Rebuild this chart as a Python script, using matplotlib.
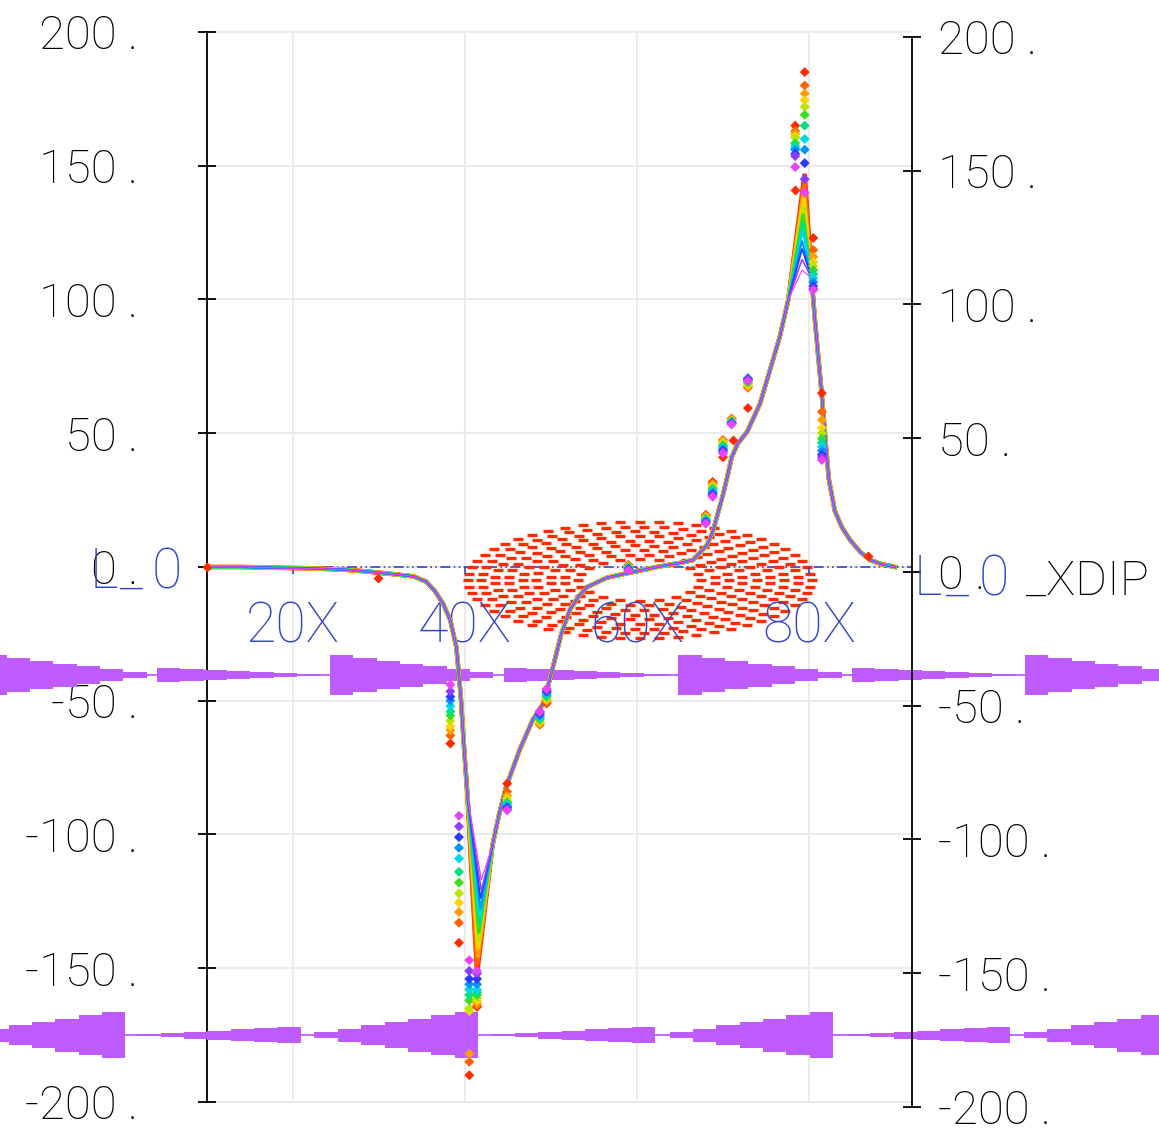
import matplotlib
matplotlib.use("Agg")
import matplotlib.pyplot as plt
import numpy as np

W, H = 1159, 1133

plt.rcParams["font.family"] = ["Roboto", "DejaVu Sans"]
plt.rcParams["font.weight"] = "light"

# axis layout (data units)
x_lim = (-14.07, 120.7)
y_lim = (-211.6, 211.96)
left_axis_x = 10
right_axis_x = 92
y_ticks = [-200, -150, -100, -50, 0, 50, 100, 150, 200]
y_tick_labels = ["-200 .", "-150 .", "-100 .", "-50 .", "0 .", "50 .", "100 .", "150 .", "200 ."]
x_ticks = [20, 40, 60, 80]
x_tick_labels = ["20X", "40X", "60X", "80X"]

series_colors = ["#ff2a00", "#ff6000", "#ff9e00", "#ffd200", "#b8e600", "#3ddc20",
                 "#00e080", "#00d8e8", "#0094ff", "#2a3cff", "#8c3cff", "#e644ff"]

# shared parts of the rainbow curves
seg_a_x = [10, 14, 18, 22, 26, 29, 32, 34, 35.5, 36.5, 37.5, 38.3, 39.0, 39.5, 39.9, 40.3]
seg_a_y = [0, 0, -0.3, -0.5, -1, -1.8, -2.8, -3.5, -5.5, -9, -14, -20, -30, -48, -68, -86]
seg_b_x = [43.2, 44.0, 44.8, 45.6, 46.4, 47.9, 49.1, 49.7, 50.5, 51.2, 52.2, 53.2, 54.2,
           56.5, 59.5, 62.0, 63.5, 65.0, 66.5, 68.1, 68.8, 69.4, 70.0, 70.6, 71.0, 71.7,
           72.8, 74.3, 75.5, 76.6, 77.6]
seg_b_y = [-104, -92, -82, -75, -68, -57, -51, -44, -34, -25, -16, -11, -7.5,
           -4, -1.9, -0.2, 0.7, 1.5, 2.6, 8, 13, 20, 27, 35, 41, 46,
           50.5, 61, 74, 86, 100]
seg_c_x = [80.3, 80.7, 81.1, 81.5, 81.9, 82.3, 83.0, 83.8, 84.8, 86.0, 87.1, 88.5, 90.0]
seg_c_y = [108, 92, 78, 64, 48, 33, 21, 15, 10, 5.5, 2.6, 1, 0]

# per-series tips (red -> magenta)
dip_x = [41.4, 41.4, 41.5, 41.5, 41.6, 41.6, 41.7, 41.7, 41.8, 41.8, 41.9, 41.9]
dip_y = [-152, -149, -146, -143, -140, -137, -134, -131, -128, -124, -121, -117]
peak_x = [79.5, 79.5, 79.4, 79.4, 79.4, 79.3, 79.3, 79.3, 79.2, 79.2, 79.2, 79.2]
peak_y = [147, 144, 141, 138, 135, 132, 129, 126, 122, 119, 115, 111]

# diamond marker columns (values red -> magenta)
col_x = [38.3, 39.3, 40.5, 41.4, 44.9, 48.7, 49.5, 59.0, 68.0, 68.8, 70.0, 71.0,
         72.9, 78.4, 79.5, 80.5, 81.5]
col_y = [
    [-66, -63, -61, -59.5, -57.5, -55.5, -54, -52, -50, -48.5, -46.5, -44],
    [-140.5, -133, -129, -125.5, -122, -118, -114, -109, -105, -101, -97, -93],
    [-190, -185, -182, -166, -165, -162, -160, -158, -156, -154, -151, -147],
    [-164.5, -164, -163, -162, -161, -160, -159, -158, -156, -154, -152, -151],
    [-81, -84, -85.5, -86.5, -87.5, -88, -88.5, -89, -89.5, -90, -90.5, -91],
    [-54, -59, -58.5, -58, -57.5, -57, -56.5, -56, -55.5, -55, -54.5, -54],
    [-51, -50.5, -50, -49.5, -49, -48.5, -48, -47.5, -47, -46.5, -46, -45.5],
    [0.8, 0.6, 0.4, 0.2, 0, 0, -0.2, -0.4, -0.6, -0.8, -1, -1.2],
    [19.5, 19.2, 18.9, 18.6, 18.3, 18, 17.7, 17.4, 17.1, 16.8, 16.5, 16.2],
    [31.8, 31.3, 30.8, 30.3, 29.8, 29.3, 28.8, 28.3, 27.8, 27.3, 26.8, 26.2],
    [41, 47.5, 47, 46.5, 46, 45.5, 45, 44.5, 44, 43.5, 43, 42.5],
    [55.5, 55.3, 55.1, 54.9, 54.7, 54.5, 54.3, 54.1, 53.9, 53.7, 53.5, 53.3],
    [59.4, 67, 67.5, 68, 68.5, 69, 69.5, 70, 70.6, 70.3, 70, 69.5],
    [165, 163, 162, 161, 160.5, 158.5, 157.5, 156.6, 156, 154.5, 153.6, 149.5],
    [185, 180, 177, 174.5, 172, 169, 165, 160, 156, 151, 145, 140],
    [123, 118.5, 116, 114, 112.5, 111, 109.5, 108, 106.5, 105, 104, 103.5],
    [65, 58, 55, 52, 50, 48, 46.5, 45, 43.5, 42, 41, 40],
]
lone_x = [10, 29.9, 86.9, 71.2, 78.4]
lone_y = [0, -4, 4, 47.5, 141]

# dashed ring
ring_center = (60.3, -4.9)
ring_radius = (20.0, 21.7)
ring_fracs = [0.36, 0.44, 0.52, 0.60, 0.68, 0.76, 0.84, 0.92, 1.0]
ring_dashes = 56

# purple wedge bands
upper_y = -40.4
upper_starts = [-16.0, 4.2, 24.3, 44.5, 64.8, 85.0, 105.1]
upper_half = [7.5, 2.6, 7.5, 2.6, 7.5, 2.6, 7.5]
lower_y = -175
lower_ends = [0.5, 20.9, 41.5, 62.1, 82.8, 103.4, 124.0]
lower_half = [8.6, 3.0, 8.6, 3.0, 8.6, 3.0, 8.6]
wedge_len = 19.0

BLUE = "#3246c8"
PURPLE = "#bf5cff"
RED = "#ff2a00"
GRID = "#ebebeb"


def px(x, y):
    return x / W, 1 - y / H


def wedge(ax, x0, half, yc, pointing_right, steps=7):
    k = np.arange(steps + 1)
    xs = x0 + wedge_len * k / steps if pointing_right else x0 - wedge_len + wedge_len * k / steps
    if pointing_right:
        hs = half * (1 - np.minimum(k, steps - 1) / steps)
    else:
        hs = half * (np.minimum(k, steps - 1) + 1) / steps
    ax.fill_between(xs, yc - hs, yc + hs, step="post", color=PURPLE, lw=0, zorder=3)


fig = plt.figure(figsize=(W / 100, H / 100), dpi=100)
ax = fig.add_axes([0, 0, 1, 1])
ax2 = fig.add_axes([0, -5 / H, 1, 1])
for a in (ax, ax2):
    a.set_xlim(*x_lim)
    a.set_ylim(*y_lim)
    a.patch.set_visible(False)
    for s in a.spines.values():
        s.set_visible(False)

# left axis
ax.spines["left"].set_visible(True)
ax.spines["left"].set_position(("data", left_axis_x))
ax.spines["left"].set_bounds(-200, 200)
ax.spines["left"].set_linewidth(1.3)
ax.yaxis.set_ticks_position("left")
ax.set_yticks(y_ticks, y_tick_labels)
ax.tick_params(axis="y", direction="inout", length=13, width=1.3, pad=43, labelsize=34)

# x labels along the zero line
ax.spines["bottom"].set_position(("data", 0))
ax.xaxis.set_ticks_position("bottom")
ax.set_xticks(x_ticks, x_tick_labels)
ax.tick_params(axis="x", direction="out", length=5, width=1.2, color=BLUE,
               labelcolor=BLUE, labelsize=40, pad=19)

# right axis (drawn a few pixels lower)
ax2.spines["right"].set_visible(True)
ax2.spines["right"].set_position(("data", right_axis_x))
ax2.spines["right"].set_bounds(-200, 200)
ax2.spines["right"].set_linewidth(1.3)
ax2.yaxis.set_ticks_position("right")
ax2.set_yticks(y_ticks, y_tick_labels)
ax2.set_xticks([])
ax2.tick_params(axis="y", direction="inout", length=13, width=1.3, pad=12, labelsize=34)

# grid
ax.vlines(x_ticks, -200, 200, colors=GRID, lw=1.5, zorder=0)
ax.hlines(y_ticks, left_axis_x, right_axis_x, colors=GRID, lw=1.5, zorder=0)
ax.hlines(0, left_axis_x, right_axis_x, colors=BLUE, lw=1.2,
          linestyles=[(0, (6, 2, 1, 2, 1, 2))], zorder=1)

# dashed ring
for i, frac in enumerate(ring_fracs):
    n = int(ring_dashes * frac)
    t = np.linspace(0, 2 * np.pi, n, endpoint=False) + 0.5 * i / n * 2 * np.pi
    ax.scatter(ring_center[0] + ring_radius[0] * frac * np.cos(t),
               ring_center[1] + ring_radius[1] * frac * np.sin(t),
               marker="_", s=55, linewidths=2.4, color=RED, zorder=1.5)

# purple bands
for yc in (upper_y, lower_y):
    ax.axhline(yc, color=PURPLE, lw=1.3, zorder=3)
for x0, h in zip(upper_starts, upper_half):
    wedge(ax, x0, h, upper_y, True)
for x1, h in zip(lower_ends, lower_half):
    wedge(ax, x1, h, lower_y, False)

# rainbow curves: red widest at bottom, magenta thinnest on top
for i, c in enumerate(series_colors):
    xs = seg_a_x + [dip_x[i]] + seg_b_x + [peak_x[i]] + seg_c_x
    ys = seg_a_y + [dip_y[i]] + seg_b_y + [peak_y[i]] + seg_c_y
    ax.plot(xs, ys, color=c, lw=3.3 - 0.22 * i, zorder=4, solid_joinstyle="miter")

# diamond markers
for x, ys in zip(col_x, col_y):
    ax.scatter([x] * len(ys), ys, c=series_colors[:len(ys)], marker="D", s=26,
               linewidths=0, zorder=5)
ax.scatter(lone_x, lone_y, c=RED, marker="D", s=26, linewidths=0, zorder=5)

# overlay labels
fs = 40
fig.text(*px(90, 588), "L", color=BLUE, fontsize=fs, va="baseline")
fig.text(*px(120, 588), "_", color=BLUE, fontsize=fs, va="baseline")
fig.text(*px(152, 588), "0", color=BLUE, fontsize=fs, va="baseline")
fig.text(*px(914, 595), "L", color=BLUE, fontsize=fs, va="baseline")
fig.text(*px(946, 595), "_", color=BLUE, fontsize=fs, va="baseline")
fig.text(*px(979, 595), "0", color=BLUE, fontsize=fs, va="baseline")
fig.text(*px(1026, 595), "_XDIP", color="black", fontsize=35, va="baseline")

fig.savefig("out.png", dpi=100)
